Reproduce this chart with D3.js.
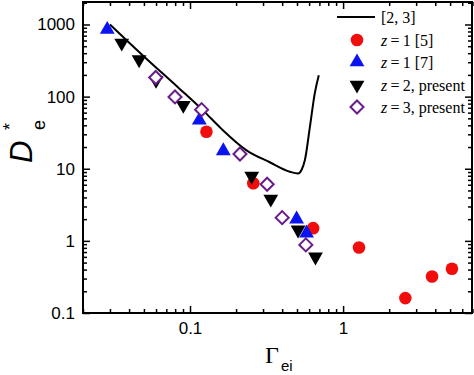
<!DOCTYPE html>
<html>
<head>
<meta charset="utf-8">
<script src="https://cdn.jsdelivr.net/npm/d3@7"></script>
<style>
  body { margin: 0; background: #fff; }
  svg { display: block; font-family: "Liberation Sans", Arial, sans-serif; }
  .tick text { font-size: 17px; fill: #000; }
  .legend text { font-family: "Liberation Serif", "Times New Roman", serif; font-size: 16px; }
</style>
</head>
<body>
<svg width="474" height="375"></svg>
<script>
  // theory curve [2, 3]
  const theoryG = [0.030, 0.05, 0.085, 0.122, 0.16, 0.234, 0.332, 0.449, 0.508, 0.535, 0.563, 0.607, 0.653, 0.694];
  const theoryD = [1000, 360, 130, 64, 36, 18, 12.3, 9.1, 8.6, 9.6, 13.2, 38, 111, 198];

  // z=1 [5]
  const red_G = [0.128, 0.259, 0.637, 1.27, 2.55, 3.81, 5.14];
  const red_D = [32.5, 6.3, 1.5, 0.81, 0.161, 0.32, 0.41];

  // z=1 [7]
  const blue_G = [0.0288, 0.115, 0.165, 0.497, 0.577];
  const blue_D = [850, 47, 17.7, 2.0, 1.28];

  // z=2, present
  const black_G = [0.0358, 0.0465, 0.060, 0.0904, 0.253, 0.337, 0.508, 0.66];
  const black_D = [553, 326, 169, 76, 7.9, 3.8, 1.42, 0.60];

  // z=3, present
  const purple_G = [0.0597, 0.0798, 0.119, 0.212, 0.319, 0.40, 0.571];
  const purple_D = [184, 99, 66, 16, 6.1, 2.1, 0.88];

  const xMajor = [0.1, 1];
  const xMinor = [0.02, 0.03, 0.04, 0.05, 0.06, 0.07, 0.08, 0.09,
                  0.2, 0.3, 0.4, 0.5, 0.6, 0.7, 0.8, 0.9, 2, 3, 4, 5, 6, 7];
  const yMajor = [0.1, 1, 10, 100, 1000];
  const yMinor = [0.2, 0.3, 0.4, 0.5, 0.6, 0.7, 0.8, 0.9, 2, 3, 4, 5, 6, 7, 8, 9,
                  20, 30, 40, 50, 60, 70, 80, 90, 200, 300, 400, 500, 600, 700, 800, 900, 2000];
  const yLabels = ["0.1", "1", "10", "100", "1000"];
  const xLabels = ["0.1", "1"];

  const svg = d3.select("svg");
  const width = +svg.attr("width");
  const height = +svg.attr("height");
  const margin = { top: 2, right: 2, bottom: 62, left: 83 };
  const innerWidth = width - margin.left - margin.right;
  const innerHeight = height - margin.top - margin.bottom;

  const xScale = d3.scaleLog().domain([0.02, 6.95]).range([0, innerWidth]);
  const yScale = d3.scaleLog().domain([0.1, 2050]).range([innerHeight, 0]);

  const g = svg.append("g").attr("transform", `translate(${margin.left},${margin.top})`);

  const zip = (a, b) => a.map((v, i) => ({ x: v, y: b[i] }));

  // axes: ticks pointing inward on all four sides
  const addAxis = (axis, transform, keepText) => {
    const ag = g.append("g").attr("transform", transform).call(axis);
    ag.select(".domain").remove();
    ag.selectAll(".tick line").attr("stroke", "#000").attr("stroke-width", 1.5);
    if (!keepText) ag.selectAll("text").remove();
    return ag;
  };

  addAxis(d3.axisBottom(xScale).tickValues(xMajor).tickSize(-7).tickPadding(9)
    .tickFormat((d, i) => xLabels[i]), `translate(0,${innerHeight})`, true);
  addAxis(d3.axisBottom(xScale).tickValues(xMinor).tickSize(-4), `translate(0,${innerHeight})`);
  addAxis(d3.axisTop(xScale).tickValues(xMajor).tickSize(-7), "translate(0,0)");
  addAxis(d3.axisTop(xScale).tickValues(xMinor).tickSize(-4), "translate(0,0)");

  addAxis(d3.axisLeft(yScale).tickValues(yMajor).tickSize(-7).tickPadding(8)
    .tickFormat((d, i) => yLabels[i]), "translate(0,0)", true);
  addAxis(d3.axisLeft(yScale).tickValues(yMinor).tickSize(-4), "translate(0,0)");
  addAxis(d3.axisRight(yScale).tickValues(yMajor).tickSize(-7), `translate(${innerWidth},0)`);
  addAxis(d3.axisRight(yScale).tickValues(yMinor).tickSize(-4), `translate(${innerWidth},0)`);

  g.append("rect")
    .attr("width", innerWidth).attr("height", innerHeight)
    .attr("fill", "none").attr("stroke", "#000").attr("stroke-width", 2);

  // theory line
  const line = d3.line()
    .x(d => xScale(d.x))
    .y(d => yScale(d.y))
    .curve(d3.curveMonotoneX);

  g.append("path")
    .attr("d", line(zip(theoryG, theoryD)))
    .attr("fill", "none").attr("stroke", "#000").attr("stroke-width", 2);

  const triUp = d3.symbol().type(d3.symbolTriangle).size(95);
  const diamond = "M0,-6.5L6.5,0L0,6.5L-6.5,0Z";

  g.append("g").selectAll("circle").data(zip(red_G, red_D)).join("circle")
    .attr("cx", d => xScale(d.x)).attr("cy", d => yScale(d.y))
    .attr("r", 6.3).attr("fill", "#f20d0d");

  g.append("g").selectAll("path").data(zip(blue_G, blue_D)).join("path")
    .attr("d", triUp())
    .attr("transform", d => `translate(${xScale(d.x)},${yScale(d.y)})`)
    .attr("fill", "#0a14f0");

  g.append("g").selectAll("path").data(zip(black_G, black_D)).join("path")
    .attr("d", triUp())
    .attr("transform", d => `translate(${xScale(d.x)},${yScale(d.y)}) rotate(180)`)
    .attr("fill", "#000");

  g.append("g").selectAll("path").data(zip(purple_G, purple_D)).join("path")
    .attr("d", diamond)
    .attr("transform", d => `translate(${xScale(d.x)},${yScale(d.y)})`)
    .attr("fill", "#fff").attr("stroke", "#6a1b8a").attr("stroke-width", 2);

  // legend
  const legend = svg.append("g").attr("class", "legend");
  legend.append("line").attr("x1", 337).attr("x2", 375).attr("y1", 17).attr("y2", 17)
    .attr("stroke", "#000").attr("stroke-width", 2);
  legend.append("circle").attr("cx", 357).attr("cy", 40).attr("r", 6.3).attr("fill", "#f20d0d");
  legend.append("path").attr("d", triUp()).attr("transform", "translate(357,62)").attr("fill", "#0a14f0");
  legend.append("path").attr("d", triUp()).attr("transform", "translate(357,85) rotate(180)").attr("fill", "#000");
  legend.append("path").attr("d", diamond).attr("transform", "translate(357,107)")
    .attr("fill", "#fff").attr("stroke", "#6a1b8a").attr("stroke-width", 2);

  const legendRows = [
    { y: 17, z: null, rest: "[2, 3]" },
    { y: 40, z: "1", rest: " [5]" },
    { y: 62, z: "1", rest: " [7]" },
    { y: 85, z: "2", rest: ", present" },
    { y: 107, z: "3", rest: ", present" }
  ];
  legendRows.forEach(r => {
    const t = legend.append("text").attr("x", 381).attr("y", r.y + 5.5);
    if (r.z) {
      t.append("tspan").attr("font-style", "italic").text("z");
      t.append("tspan").text("\u2009=\u2009" + r.z + r.rest);
    } else {
      t.text(r.rest);
    }
  });

  // y axis label: D_e^*
  const yl = svg.append("g").attr("transform", "translate(32,163) rotate(-90)");
  yl.append("text").attr("x", 0).attr("y", 0)
    .attr("font-size", 31).attr("font-style", "italic").text("D");
  yl.append("text").attr("x", 33).attr("y", 13)
    .attr("font-size", 18).text("e");
  yl.append("text").attr("x", 33).attr("y", -16)
    .attr("font-size", 18).text("*");

  // x axis label: Γ_ei
  svg.append("text").attr("x", 265).attr("y", 363)
    .attr("font-family", "Liberation Serif, Times New Roman, serif")
    .attr("font-size", 24).text("\u0393");
  svg.append("text").attr("x", 281).attr("y", 371)
    .attr("font-size", 15).text("ei");
</script>
</body>
</html>
